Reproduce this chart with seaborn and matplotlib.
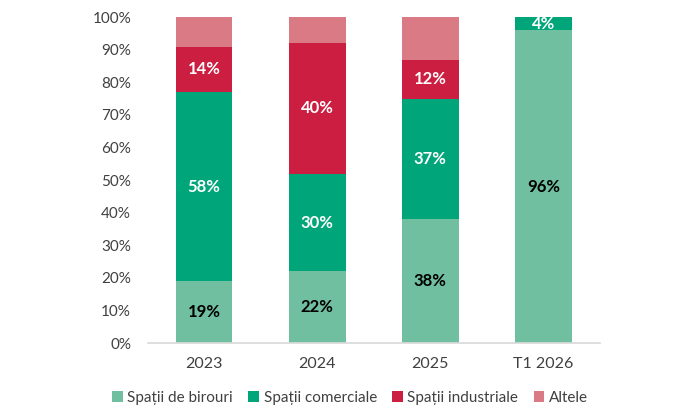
import matplotlib
matplotlib.use("Agg")
import matplotlib.pyplot as plt
import seaborn as sns
import pandas as pd
import numpy as np
from matplotlib.patches import Patch

categories = ["2023", "2024", "2025", "T1 2026"]
series_names = ["Spații de birouri", "Spații comerciale", "Spații industriale", "Altele"]
birouri = [19, 22, 38, 96]
comerciale = [58, 30, 37, 4]
industriale = [14, 40, 12, 0]
altele = [9, 8, 13, 0]
colors = ["#70bfa0", "#00a67a", "#cc1e41", "#d97a85"]
label_colors = ["black", "white", "white", None]

sns.set_theme(style="white")
plt.rcParams["font.family"] = ["Lato", "DejaVu Sans"]

values = [birouri, comerciale, industriale, altele]
cum = np.cumsum(np.array(values, dtype=float), axis=0)

fig = plt.figure(figsize=(7, 4.2), dpi=100)
ax = fig.add_axes([0.211, 0.183, 0.646, 0.776])

# draw from top layer down so lower layers overlay
for i in range(len(values) - 1, -1, -1):
    df = pd.DataFrame({"cat": categories, "val": cum[i]})
    sns.barplot(data=df, x="cat", y="val", color=colors[i], saturation=1,
                width=0.5, ax=ax, order=categories, linewidth=0, edgecolor="none")

# labels
for i, vals in enumerate(values):
    if label_colors[i] is None:
        continue
    for j, v in enumerate(vals):
        if v <= 0:
            continue
        center = cum[i][j] - v / 2
        ax.text(j, center, f"{v}%", ha="center", va="center",
                color=label_colors[i], fontsize=12, fontweight="bold")

ax.set_ylim(0, 100)
ax.set_xlim(-0.5, 3.5)
ax.set_yticks(range(0, 101, 10))
ax.set_yticklabels([f"{t}%" for t in range(0, 101, 10)], fontsize=11, color="#404040")
ax.tick_params(axis="x", labelsize=11.5, colors="#404040", length=0, pad=10)
ax.tick_params(axis="y", length=0, pad=12)
ax.set_xlabel("")
ax.set_ylabel("")
for s in ["top", "right", "left"]:
    ax.spines[s].set_visible(False)
ax.spines["bottom"].set_color("#d9d9d9")
ax.grid(False)

handles = [Patch(facecolor=c, edgecolor="none") for c in colors]
fig.legend(handles, series_names, loc="center", bbox_to_anchor=(0.5, 0.052),
           ncol=4, frameon=False, fontsize=11, handlelength=0.7, handleheight=0.7,
           handletextpad=0.3, columnspacing=1.0, labelcolor="#404040")

fig.savefig("out.png", dpi=100)
